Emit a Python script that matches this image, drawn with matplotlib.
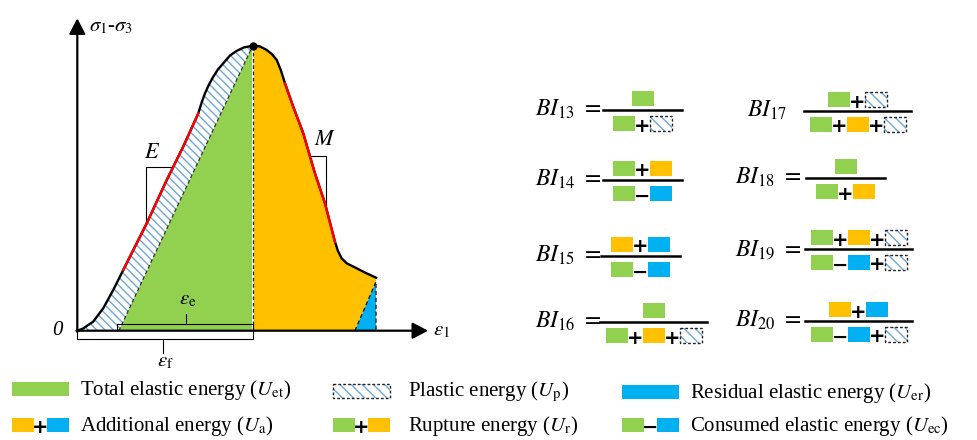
import matplotlib.pyplot as plt
import matplotlib.patches as mpatches
import numpy as np

plt.rcParams['mathtext.fontset'] = 'stix'
plt.rcParams['font.family'] = ['Liberation Serif', 'DejaVu Serif']
plt.rcParams['hatch.linewidth'] = 1.0

GREEN = '#92D050'
ORANGE = '#FFC000'
BLUE = '#00B0F0'
HATCH = '#6FA6DA'
RED = '#FF0000'

# stress-strain curve, both axes normalised to the peak point
strain = [0.0, 0.034, 0.091, 0.148, 0.205, 0.262, 0.396, 0.510, 0.604, 0.690,
          0.708, 0.728, 0.751, 0.775, 0.802, 0.832, 0.871, 0.909, 0.950, 1.0,
          1.039, 1.080, 1.110, 1.137, 1.161, 1.184, 1.231, 1.288, 1.355, 1.412,
          1.469, 1.486, 1.507, 1.537, 1.574, 1.640, 1.703]
stress = [0.0, 0.008, 0.032, 0.079, 0.143, 0.213, 0.377, 0.529, 0.646, 0.763,
          0.799, 0.833, 0.864, 0.891, 0.917, 0.938, 0.966, 0.982, 0.994, 1.0,
          0.998, 0.985, 0.970, 0.950, 0.913, 0.868, 0.786, 0.693, 0.552, 0.447,
          0.312, 0.280, 0.254, 0.236, 0.225, 0.204, 0.186]
eps_p = 0.237        # strain left after elastic unloading
eps_r = 1.583        # foot of the residual elastic triangle
stress_res = 0.172   # top of the residual elastic triangle
red_pre = (0.262, 0.690)    # linear part before the peak (E)
red_post = (1.184, 1.469)   # linear part after the peak (M)

# brittleness indices: g=U_et, o=U_a part, b=U_er, h=U_p
bi_num = [13, 14, 15, 16, 17, 18, 19, 20]
bi_top = ['g', 'g+o', 'o+b', 'g', 'g+h', 'g', 'g+o+h', 'o+b']
bi_bottom = ['g+h', 'g-b', 'g-b', 'g+o+h', 'g+o+h', 'g+o', 'g-b+h', 'g-b+h']
bi_equal = [True, True, True, True, False, True, True, True]

legend_keys = ['G', 'H', 'B', 'o+b', 'g+o', 'g-b']
legend_labels = [r'Total elastic energy ($U_{\rm et}$)',
                 r'Plastic energy ($U_{\rm p}$)',
                 r'Residual elastic energy ($U_{\rm er}$)',
                 r'Additional energy ($U_{\rm a}$)',
                 r'Rupture energy ($U_{\rm r}$)',
                 r'Consumed elastic energy ($U_{\rm ec}$)']

fig = plt.figure(figsize=(9.78, 4.40), dpi=100)
ax = fig.add_axes([0, 0, 1, 1])
ax.set_xlim(-0.4407, 5.135)
ax.set_ylim(-0.3835, 1.1604)
ax.axis('off')

ipk = strain.index(1.0)
pre = list(zip(strain[:ipk + 1], stress[:ipk + 1]))
post = list(zip(strain[ipk:], stress[ipk:]))

# energy areas
ax.add_patch(mpatches.Polygon(pre + [(eps_p, 0)], closed=True, facecolor='white',
                              edgecolor=HATCH, hatch='\\\\\\\\', lw=0, zorder=1))
ax.fill([eps_p, 1, 1], [0, 1, 0], color=GREEN, lw=0, zorder=2)
ax.add_patch(mpatches.Polygon(post + [(strain[-1], stress_res), (eps_r, 0), (1, 0)],
                              closed=True, facecolor=ORANGE, lw=0, zorder=2))
ax.fill([eps_r, strain[-1], strain[-1]], [0, stress_res, 0], color=BLUE, lw=0, zorder=2)

ax.plot([eps_p, 1], [0, 1], color='#333333', lw=0.9, ls=(0, (3, 2)), zorder=3)
ax.plot([1, 1], [0, 1], color='white', lw=1.4, zorder=3)
ax.plot([1, 1], [0, 1], color='#222222', lw=0.9, ls=(0, (3, 2)), zorder=3)
ax.plot([eps_r, strain[-1], strain[-1]], [0, stress_res, 0], color='#222222',
        lw=1.0, ls=(0, (3, 2)), zorder=3)

# curve and the linear segments
ax.plot(strain, stress, color='k', lw=1.7, solid_joinstyle='round', zorder=5)
for a, b in (red_pre, red_post):
    i, j = strain.index(a), strain.index(b)
    ax.plot(strain[i:j + 1], stress[i:j + 1], color=RED, lw=1.7, zorder=6)
ax.plot(1, 1, 'o', color='k', ms=5, zorder=7)

# axes with arrows
arrow = dict(arrowstyle='-|>,head_length=0.63,head_width=0.33', lw=1.6, color='k',
             mutation_scale=15, shrinkA=0, shrinkB=0)
ax.annotate('', xy=(0, 1.096), xytext=(0, -0.004), arrowprops=arrow, zorder=8)
ax.annotate('', xy=(2.0, 0), xytext=(-0.005, 0), arrowprops=arrow, zorder=8)

ax.text(0.067, 1.068, r'$\sigma_1$-$\sigma_3$', fontsize=15, va='center', ha='left')
ax.text(2.03, 0.0, r'$\varepsilon_1$', fontsize=15, va='center', ha='left')
ax.text(-0.116, 0.0, '0', fontsize=15, style='italic', va='center', ha='center')

# slope markers
bk = dict(color='k', lw=0.8, zorder=4)
ax.plot([0.538, 0.392, 0.392], [0.573, 0.573, 0.377], **bk)
ax.text(0.424, 0.621, '$E$', fontsize=16, ha='center', va='center')
ax.plot([1.327, 1.416, 1.416], [0.613, 0.613, 0.441], **bk)
ax.text(1.412, 0.669, '$M$', fontsize=16, ha='center', va='center')

# strain brackets
mid_e = (eps_p + 1) / 2
ax.plot([eps_p - 0.01, eps_p - 0.01, 1, 1], [0, 0.0235, 0.0235, 0], **bk)
ax.plot([mid_e, mid_e], [0.0235, 0.0586], **bk)
ax.text(mid_e + 0.01, 0.108, r'$\varepsilon_{\rm e}$', fontsize=15, ha='center', va='center')
ax.plot([0, 0, 1, 1], [0, -0.029, -0.029, 0], **bk)
ax.plot([0.49, 0.49], [-0.029, -0.078], **bk)
ax.text(0.5, -0.11, r'$\varepsilon_{\rm f}$', fontsize=15, ha='center', va='center')

# overlay in pixel units for the index formulas and the key
ov = fig.add_axes([0, 0, 1, 1], facecolor='none')
ov.set_xlim(0, 978)
ov.set_ylim(440, 0)
ov.axis('off')

FILL = {'g': GREEN, 'o': ORANGE, 'b': BLUE}


def box(x, y, w, h, kind):
    if kind == 'h':
        ov.add_patch(mpatches.Rectangle((x, y), w, h, facecolor='white', edgecolor=HATCH,
                                        hatch='\\\\\\', lw=0))
        ov.add_patch(mpatches.Rectangle((x, y), w, h, fill=False, edgecolor='#222222',
                                        lw=1.0, ls=(0, (2, 1.5))))
    else:
        ov.add_patch(mpatches.Rectangle((x, y), w, h, facecolor=FILL[kind], lw=0))


def tokens(expr, x0, yc, bw=22, bh=15, gap=15, center=True):
    n_box = sum(c.isalpha() for c in expr)
    total = n_box * bw + (len(expr) - n_box) * gap
    x = x0 - total / 2 if center else x0
    for c in expr:
        if c.isalpha():
            box(x, yc - bh / 2, bw, bh, c)
            x += bw
        else:
            sym = '+' if c == '+' else '\u2212'
            ov.text(x + gap / 2, yc + 0.5, sym, fontsize=14, fontweight='bold',
                    family='DejaVu Sans', ha='center', va='center_baseline')
            x += gap


bar_x = [603, 603, 601, 600, 804, 806, 805, 805]
bar_y = [110, 180, 256, 322, 111, 178, 249, 321]
lab_x = [535, 535, 535, 535, 747, 735, 735, 735]
for k in range(len(bi_num)):
    wide = max(len(bi_top[k]), len(bi_bottom[k])) > 3
    bw = 107 if wide else 79
    cx = bar_x[k] + bw / 2
    y = bar_y[k]
    ov.plot([bar_x[k], bar_x[k] + bw], [y, y], color='k', lw=1.8)
    tokens(bi_top[k], cx, y - 11.5)
    tokens(bi_bottom[k], cx, y + 13.5)
    s = r'$BI_{%d}\ =$' % bi_num[k] if bi_equal[k] else r'$BI_{%d}$' % bi_num[k]
    ov.text(lab_x[k], y + 6, s, fontsize=17, ha='left', va='baseline')

# key
key_x = [12, 333, 622, 12, 333, 622]
key_y = [389, 391, 392, 425, 425, 425]
text_x = [80, 408, 690, 80, 408, 690]
for k in range(len(legend_keys)):
    kk = legend_keys[k]
    if len(kk) == 1:
        box(key_x[k], key_y[k] - 7, 57, 14, kk.lower())
    else:
        tokens(kk, key_x[k], key_y[k], bw=22, bh=14, gap=13, center=False)
    ov.text(text_x[k], key_y[k] + 1, legend_labels[k], fontsize=15, ha='left',
            va='center')

fig.savefig('out.png', dpi=100)
